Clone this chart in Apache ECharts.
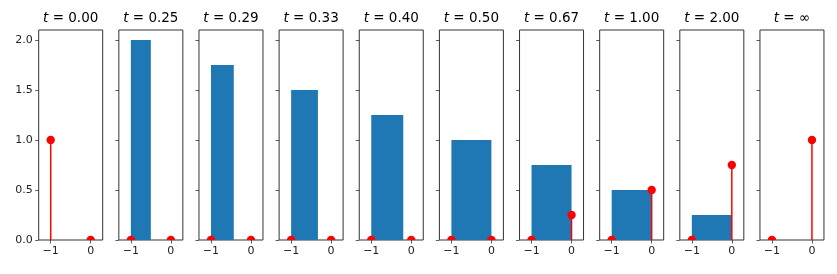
<!DOCTYPE html>
<html>
<head>
<meta charset="utf-8">
<script src="https://cdn.jsdelivr.net/npm/echarts@6/dist/echarts.min.js"></script>
<style>
  html, body { margin: 0; padding: 0; background: #fff; }
  #chart { width: 837px; height: 274px; }
</style>
</head>
<body>
<div id="chart"></div>
<script>
// one panel per time value
const tLabels = ['0.00', '0.25', '0.29', '0.33', '0.40', '0.50', '0.67', '1.00', '2.00', '∞'];
// uniform block from -1 to barRight with height barHeight
const barLeft = -1;
const barRight = [-1, -0.5, -0.43, -0.33, -0.2, 0, 0, 0, 0, 0];
const barHeight = [0, 2.0, 1.75, 1.5, 1.25, 1.0, 0.75, 0.5, 0.25, 0];
// point masses at x = -1 and x = 0
const massX = [-1, 0];
const massAtMinusOne = [1, 0, 0, 0, 0, 0, 0, 0, 0, 0];
const massAtZero = [0, 0, 0, 0, 0, 0, 0.25, 0.5, 0.75, 1];
// ticks
const xTickValues = [-1, 0];
const xTickLabels = ['\u22121', '0'];
const yTickValues = [0, 0.5, 1.0, 1.5, 2.0];

const chart = echarts.init(document.getElementById('chart'), null, { renderer: 'canvas' });

const panelLeft = 38.7;
const panelStep = 80.14;
const panelWidth = 64;
const panelTop = 30;
const panelHeight = 210;
const textColor = '#222';
const lineColor = '#333';

const grids = [], xAxes = [], yAxes = [], titles = [], series = [];

tLabels.forEach((lab, i) => {
  const left = panelLeft + i * panelStep;
  grids.push({
    left: left, top: panelTop, width: panelWidth, height: panelHeight,
    show: true, borderColor: lineColor, borderWidth: 1, backgroundColor: 'transparent'
  });
  titles.push({
    text: '{i|t}{n| = ' + lab + '}',
    left: left + panelWidth / 2,
    top: 11,
    textAlign: 'center',
    padding: 0,
    textStyle: {
      fontWeight: 'normal',
      rich: {
        i: { fontFamily: 'DejaVu Sans', fontStyle: 'italic', fontWeight: 'normal', fontSize: 13.5, color: '#000' },
        n: { fontFamily: 'DejaVu Sans', fontWeight: 'normal', fontSize: 13.5, color: '#000' }
      }
    }
  });
  xAxes.push({
    gridIndex: i, type: 'value', min: -1.3, max: 0.3, position: 'bottom',
    axisLine: { show: false, onZero: false },
    splitLine: { show: false },
    axisTick: { show: true, length: 3.5, customValues: xTickValues, lineStyle: { color: lineColor, width: 0.8 } },
    axisLabel: {
      show: true, customValues: xTickValues, margin: 6,
      fontFamily: 'DejaVu Sans', fontSize: 11, color: textColor,
      formatter: v => xTickLabels[xTickValues.indexOf(v)]
    }
  });
  yAxes.push({
    gridIndex: i, type: 'value', min: 0, max: 2.1, position: 'left',
    axisLine: { show: false, onZero: false },
    splitLine: { show: false },
    axisTick: { show: true, length: 3.5, customValues: yTickValues, lineStyle: { color: lineColor, width: 0.8 } },
    axisLabel: {
      show: i === 0, customValues: yTickValues, margin: 6,
      fontFamily: 'DejaVu Sans', fontSize: 11, color: textColor,
      formatter: v => v.toFixed(1)
    }
  });

  // uniform part
  series.push({
    type: 'custom', xAxisIndex: i, yAxisIndex: i, z: 2, clip: true,
    data: barHeight[i] > 0 ? [[barLeft, barRight[i], barHeight[i]]] : [],
    renderItem: (params, api) => {
      const p0 = api.coord([api.value(0), api.value(2)]);
      const p1 = api.coord([api.value(1), 0]);
      return {
        type: 'rect',
        shape: { x: p0[0], y: p0[1], width: p1[0] - p0[0], height: p1[1] - p0[1] },
        style: { fill: '#1f77b4' }
      };
    }
  });
  const masses = [[massX[0], massAtMinusOne[i]], [massX[1], massAtZero[i]]];
  // stems
  series.push({
    type: 'custom', xAxisIndex: i, yAxisIndex: i, z: 3, clip: true,
    data: masses.filter(m => m[1] > 0),
    renderItem: (params, api) => {
      const a = api.coord([api.value(0), 0]);
      const b = api.coord([api.value(0), api.value(1)]);
      return {
        type: 'line',
        shape: { x1: a[0], y1: a[1], x2: b[0], y2: b[1] },
        style: { stroke: '#ff0000', lineWidth: 1.5 }
      };
    }
  });
  // markers
  series.push({
    type: 'custom', xAxisIndex: i, yAxisIndex: i, z: 4, clip: true,
    data: masses,
    renderItem: (params, api) => {
      const c = api.coord([api.value(0), api.value(1)]);
      return {
        type: 'circle',
        shape: { cx: c[0], cy: c[1], r: 4.2 },
        style: { fill: '#ff0000' }
      };
    }
  });
});

chart.setOption({
  animation: false,
  backgroundColor: '#fff',
  title: titles,
  grid: grids,
  xAxis: xAxes,
  yAxis: yAxes,
  series: series
});
</script>
</body>
</html>
